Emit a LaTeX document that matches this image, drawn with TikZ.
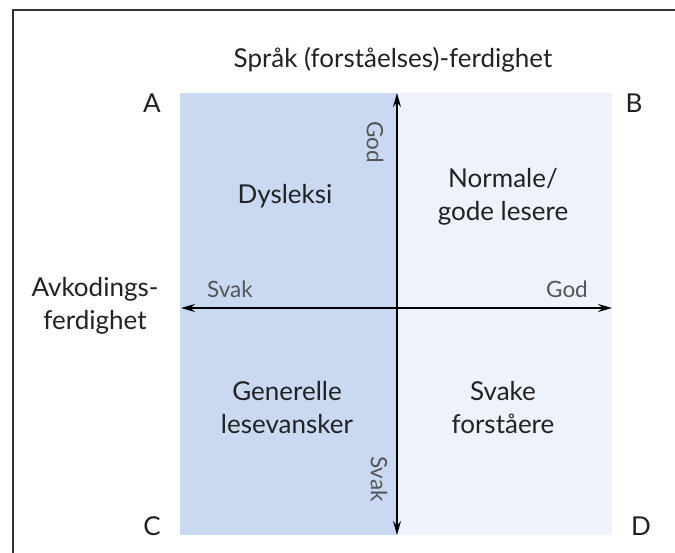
\documentclass[tikz,border=0pt]{standalone}
\usepackage{fontspec}
\setmainfont{Lato}
\usetikzlibrary{arrows.meta}
\definecolor{qdark}{HTML}{C9D9F1}
\definecolor{qlight}{HTML}{EEF2FA}
\definecolor{txt}{HTML}{222222}
\definecolor{axtxt}{HTML}{555555}
\definecolor{frame}{HTML}{333333}
\tikzset{
  lbl/.style={font=\fontsize{26}{33}\selectfont, text=txt, align=center, inner sep=0pt},
  corner/.style={font=\fontsize{26}{30}\selectfont, text=txt, inner sep=0pt},
  axlbl/.style={font=\fontsize{22.5}{26}\selectfont, text=axtxt, inner sep=0pt},
  axis/.style={line width=1.4pt, black, {Stealth[length=14pt,width=8pt]}-{Stealth[length=14pt,width=8pt]}}
}
\begin{document}
\begin{tikzpicture}[x=1pt,y=-1pt]
\useasboundingbox (0,0) rectangle (675,553);
% frame
\draw[frame, line width=2pt] (675,10) -- (13,10) -- (13,553);
% quadrants
\fill[qdark] (180,93) rectangle (397,535);
\fill[qlight] (397,93) rectangle (612,535);
% axis ends
\coordinate (top) at (397,93);
\coordinate (bot) at (397,535);
\coordinate (left) at (181,308);
\coordinate (right) at (612,308);
\draw[axis] (bot) -- (top);
\draw[axis] (left) -- (right);
% title
\node[lbl] (title) at (393,60) {Språk (forståelses)-ferdighet};
% corners
\node[corner] (A) at (152,103) {A};
\node[corner] (B) at (634,103) {B};
\node[corner] (C) at (152,526) {C};
\node[corner] (D) at (641,526) {D};
% left axis title
\node[lbl] (avk) at (95,306) {Avkodings-\\ferdighet};
% axis labels
\node[axlbl] (svakh) at (230,289) {Svak};
\node[axlbl] (godh) at (567,289) {God};
\node[axlbl, rotate=-90] (godv) at (375,142) {God};
\node[axlbl, rotate=-90] (svakv) at (379,479) {Svak};
% quadrant labels
\node[lbl] (dys) at (285,196) {Dysleksi};
\node[lbl] (norm) at (503,197) {Normale/\\gode lesere};
\node[lbl] (gen) at (287,408) {Generelle\\lesevansker};
\node[lbl] (svake) at (503,408) {Svake\\forståere};
\end{tikzpicture}
\end{document}
